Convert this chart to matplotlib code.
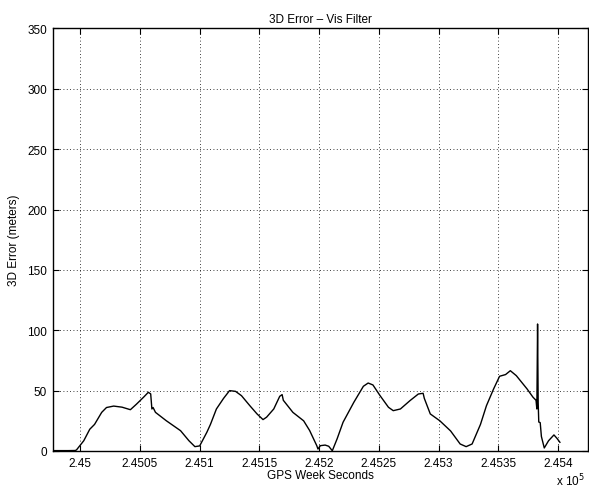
import matplotlib
matplotlib.use('Agg')
import matplotlib.pyplot as plt

plt.rcParams['font.family'] = ['Liberation Sans', 'DejaVu Sans']

# GPS week seconds and 3D error (meters)
t = [244977, 244990, 244996, 244997, 245003, 245008, 245012, 245018, 245022,
     245028, 245035, 245042, 245047, 245053, 245057, 245059, 245060, 245061,
     245063, 245072, 245084, 245091, 245096, 245100, 245106, 245109, 245114,
     245120, 245125, 245130, 245135, 245142, 245148, 245153, 245156, 245162,
     245167, 245169, 245170, 245178, 245187, 245192, 245198, 245199, 245201,
     245205, 245208, 245211, 245215, 245220, 245229, 245237, 245241, 245245,
     245251, 245258, 245262, 245268, 245276, 245283, 245287, 245288, 245293,
     245301, 245310, 245318, 245323, 245328, 245335, 245340, 245346, 245351,
     245356, 245360, 245365, 245374, 245379, 245381.5, 245382.2, 245382.8,
     245383.3, 245383.8, 245385, 245386, 245388.4, 245392, 245396.5, 245399,
     245401.5]
err = [0.3, 0.3, 0.4, 1.0, 8.5, 18.0, 22.0, 32.0, 36.0,
       37.2, 36.3, 34.2, 38.7, 44.5, 48.6, 47.3, 34.8, 36.0,
       32.0, 25.1, 16.8, 8.5, 3.6, 4.2, 15.5, 22.0, 34.8,
       43.6, 50.0, 49.4, 45.8, 37.5, 30.7, 26.0, 28.0, 34.8,
       45.3, 46.7, 42.0, 32.0, 25.0, 17.0, 4.4, 1.6, 4.4,
       4.9, 3.9, 0.2, 10.0, 23.8, 40.3, 53.6, 56.3, 54.7,
       45.8, 36.2, 33.4, 34.8, 41.7, 47.2, 47.8, 43.6, 30.7,
       25.0, 16.6, 5.8, 3.6, 5.8, 22.0, 37.5, 51.4, 61.9,
       63.3, 66.5, 62.4, 51.4, 44.5, 42.0, 34.8, 105.2,
       40.0, 24.0, 23.5, 12.0, 2.5, 8.5, 13.3, 10.5,
       7.2]

xticks = [245000, 245050, 245100, 245150, 245200, 245250, 245300, 245350, 245400]
yticks = [0, 50, 100, 150, 200, 250, 300, 350]

fig = plt.figure(figsize=(5.89, 4.89), dpi=100)
ax = fig.add_axes([0.0895, 0.0757, 0.9088, 0.864])

ax.plot(t, err, color='k', linewidth=1.0)

ax.set_xlim(244977, 245425)
ax.set_ylim(0, 350)
ax.set_xticks(xticks)
ax.set_xticklabels(['%g' % (v / 1e5) for v in xticks])
ax.set_yticks(yticks)
ax.grid(True, color='k', linestyle=(0, (1, 3)), linewidth=0.6)
ax.tick_params(direction='in', top=True, right=True, length=4,
               labelsize=8.5, pad=4)
for s in ax.spines.values():
    s.set_linewidth(1.0)

ax.set_title('3D Error \u2013 Vis Filter', fontsize=8.5, pad=5)
ax.set_xlabel('GPS Week Seconds', fontsize=8.5, labelpad=0)
ax.set_ylabel('3D Error (meters)', fontsize=8.5, labelpad=5)
fig.text(0.968, 0.006, r'x 10$^5$', fontsize=8.5, ha='center', va='baseline')

fig.savefig('out.png', dpi=100)
